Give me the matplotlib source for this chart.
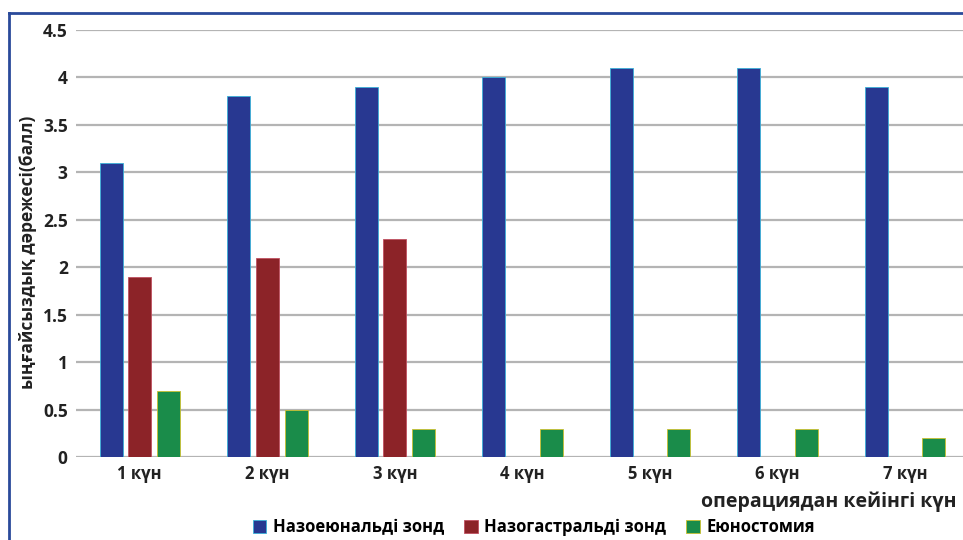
import matplotlib.pyplot as plt
import numpy as np
from matplotlib import rcParams
from matplotlib.lines import Line2D

rcParams['font.family'] = ['Open Sans', 'DejaVu Sans']
rcParams['font.weight'] = 'bold'

days = ['1 күн', '2 күн', '3 күн', '4 күн', '5 күн', '6 күн', '7 күн']
series_names = ['Назоеюнальді зонд', 'Назогастральді зонд', 'Еюностомия']
nasojejunal = [3.1, 3.8, 3.9, 4.0, 4.1, 4.1, 3.9]
nasogastric = [1.9, 2.1, 2.3, 0, 0, 0, 0]
jejunostomy = [0.7, 0.5, 0.3, 0.3, 0.3, 0.3, 0.2]
yticks = [0, 0.5, 1, 1.5, 2, 2.5, 3, 3.5, 4, 4.5]
yticklabels = ['0', '0.5', '1', '1.5', '2', '2.5', '3', '3.5', '4', '4.5']

colors = ['#283891', '#8c2328', '#1a8c4a']
edges = ['#3ab0d8', '#c05060', '#c8c030']

fig = plt.figure(figsize=(9.63, 5.4), dpi=100)
ax = fig.add_axes([76 / 963, 83 / 540, 893 / 963, 427 / 540])

x = np.arange(len(days))
width = 0.18
offsets = [-0.225, 0, 0.225]
for vals, off, c, e, name in zip([nasojejunal, nasogastric, jejunostomy],
                                 offsets, colors, edges, series_names):
    ax.bar(x + off, vals, width, color=c, edgecolor=e, linewidth=0.6,
           label=name, zorder=3)

ax.set_xlim(-0.5, 6.5)
ax.set_ylim(0, 4.5)
ax.set_yticks(yticks)
ax.set_yticklabels(yticklabels)
ax.set_xticks(x)
ax.set_xticklabels(days)
ax.tick_params(axis='y', length=0, pad=6, labelsize=12.5, colors='#222222')
ax.tick_params(axis='x', length=0, pad=6, labelsize=12, colors='#222222')
ax.grid(axis='y', color='#b4b4b4', linewidth=1.6, zorder=0)
for s in ax.spines.values():
    s.set_visible(False)

fig.text(28 / 963, 1 - 252 / 540, 'ыңғайсыздық дәрежесі(балл)', rotation=90,
         ha='center', va='center', fontsize=12.5, color='#222222')
fig.text(829 / 963, 1 - 502 / 540, 'операциядан кейінгі күн',
         ha='center', va='center', fontsize=14, color='#222222')

handles = [plt.Rectangle((0, 0), 1, 1, facecolor=c, edgecolor=e, linewidth=0.6)
           for c, e in zip(colors, edges)]
fig.legend(handles, series_names, loc='center', bbox_to_anchor=(534 / 963, 1 - 527 / 540),
           ncol=3, frameon=False, fontsize=12, handlelength=0.8, handleheight=0.8,
           handletextpad=0.4, columnspacing=1.2, borderpad=0)

# frame lines along top and left edge
fig.add_artist(Line2D([9 / 963, 1.0], [1 - 13 / 540, 1 - 13 / 540],
                      color='#2a4a9a', linewidth=2))
fig.add_artist(Line2D([9 / 963, 9 / 963], [0, 1 - 13 / 540],
                      color='#2a4a9a', linewidth=2))

fig.savefig('out.png', dpi=100)
